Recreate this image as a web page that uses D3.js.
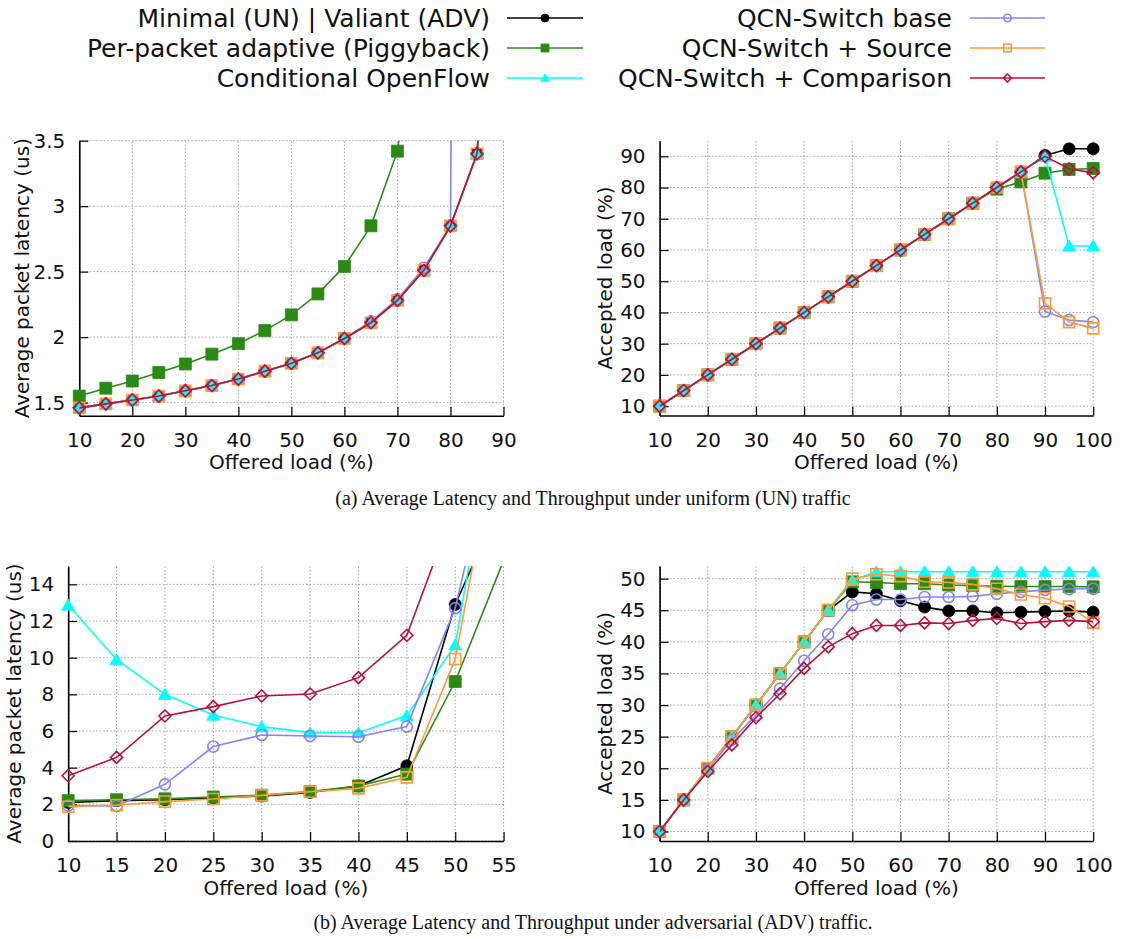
<!DOCTYPE html>
<html>
<head>
<meta charset="utf-8">
<title>QCN-Switch: latency and throughput</title>
<script src="https://cdn.jsdelivr.net/npm/d3@7"></script>
<style>
  body { margin: 0; background: #fff; }
  text { font-family: "DejaVu Sans", sans-serif; }
</style>
</head>
<body>
<script>
// series (legend order = drawing order)
const seriesNames = [
  "Minimal (UN) | Valiant (ADV)",
  "Per-packet adaptive (Piggyback)",
  "Conditional OpenFlow",
  "QCN-Switch base",
  "QCN-Switch + Source",
  "QCN-Switch + Comparison"
];
const seriesColors = ["#000000", "#2a8a14", "#00ffff", "#8484f4", "#ff9a35", "#b8103c"];
const seriesShapes = ["circle", "square", "triangle", "ocircle", "osquare", "diamond"];

// (a) uniform traffic - latency (us), offered load 10..90
const unLatLoad = [10, 15, 20, 25, 30, 35, 40, 45, 50, 55, 60, 65, 70, 75, 80, 85, 90];
const unLatMinimal    = [1.46, 1.49, 1.52, 1.55, 1.59, 1.63, 1.68, 1.74, 1.80, 1.88, 1.99, 2.11, 2.28, 2.51, 2.85, 3.40, 6.2];
const unLatPiggyback  = [1.55, 1.61, 1.665, 1.73, 1.795, 1.87, 1.95, 2.05, 2.17, 2.33, 2.54, 2.85, 3.42, 5.0, null, null, null];
const unLatOpenFlow   = [1.46, 1.49, 1.52, 1.55, 1.59, 1.63, 1.68, 1.74, 1.80, 1.88, 1.99, 2.11, 2.28, 2.51, 2.85, 3.40, 6.2];
const unLatBase       = [1.46, 1.49, 1.52, 1.55, 1.59, 1.63, 1.68, 1.74, 1.80, 1.88, 1.99, 2.12, 2.29, 2.53, 2.85, 30, null];
const unLatSource     = [1.46, 1.49, 1.52, 1.55, 1.59, 1.63, 1.68, 1.74, 1.80, 1.88, 1.99, 2.11, 2.28, 2.51, 2.85, 3.40, 6.2];
const unLatComparison = [1.46, 1.49, 1.52, 1.55, 1.59, 1.63, 1.68, 1.74, 1.80, 1.88, 1.99, 2.11, 2.28, 2.51, 2.85, 3.40, 6.2];

// (a) uniform traffic - accepted load (%), offered load 10..100
const unAccLoad = [10, 15, 20, 25, 30, 35, 40, 45, 50, 55, 60, 65, 70, 75, 80, 85, 90, 95, 100];
const unAccMinimal    = [10, 15, 20, 25, 30, 35, 40, 45, 50, 55, 60, 65, 70, 75, 80, 85, 90.3, 92.4, 92.4];
const unAccPiggyback  = [10, 15, 20, 25, 30, 35, 40, 45, 50, 55, 60, 65, 70, 75, 79.5, 81.8, 84.6, 85.8, 86.1];
const unAccOpenFlow   = [10, 15, 20, 25, 30, 35, 40, 45, 50, 55, 60, 65, 70, 75, 80, 85, 90, 61.3, 61.3];
const unAccBase       = [10, 15, 20, 25, 30, 35, 40, 45, 50, 55, 60, 65, 70, 75, 80, 85, 40.3, 37.6, 36.9];
const unAccSource     = [10, 15, 20, 25, 30, 35, 40, 45, 50, 55, 60, 65, 70, 75, 80, 85, 42.9, 36.9, 34.9];
const unAccComparison = [10, 15, 20, 25, 30, 35, 40, 45, 50, 55, 60, 65, 70, 75, 80, 85, 90, 86.0, 84.7];

// (b) adversarial traffic - latency (us), offered load 10..55
const advLatLoad = [10, 15, 20, 25, 30, 35, 40, 45, 50, 55];
const advLatValiant    = [2.1, 2.2, 2.25, 2.35, 2.45, 2.65, 3.0, 4.1, 12.9, 18.8];
const advLatPiggyback  = [2.2, 2.25, 2.3, 2.4, 2.5, 2.7, 3.0, 3.65, 8.7, 15.3];
const advLatOpenFlow   = [12.87, 9.9, 8.0, 6.87, 6.24, 5.91, 5.91, 6.84, 10.7, 26];
const advLatBase       = [1.93, 1.91, 3.09, 5.15, 5.78, 5.73, 5.69, 6.24, 12.7, 24];
const advLatSource     = [1.87, 1.96, 2.15, 2.29, 2.49, 2.69, 2.87, 3.47, 9.93, 24];
const advLatComparison = [3.56, 4.56, 6.82, 7.33, 7.91, 8.02, 8.91, 11.22, 18.3, null];

// (b) adversarial traffic - accepted load (%), offered load 10..100
const advAccLoad = [10, 15, 20, 25, 30, 35, 40, 45, 50, 55, 60, 65, 70, 75, 80, 85, 90, 95, 100];
const advAccValiant    = [10, 15, 20, 25, 30, 35, 40, 45, 47.9, 47.6, 46.5, 45.5, 44.9, 44.9, 44.6, 44.7, 44.8, 44.9, 44.7];
const advAccPiggyback  = [10, 15, 20, 25, 30, 35, 40, 45, 49.5, 49.4, 49.2, 49.2, 49.0, 48.9, 48.8, 48.75, 48.75, 48.75, 48.7];
const advAccOpenFlow   = [10, 15, 20, 25, 30, 35, 40, 45, 49.7, 51.1, 51.1, 51.1, 51.1, 51.1, 51.1, 51.1, 51.1, 51.1, 51.1];
const advAccBase       = [10, 15, 19.8, 24.5, 28.4, 32.6, 37.0, 41.2, 45.8, 46.7, 46.7, 47.1, 47.1, 47.2, 47.6, 47.9, 48.2, 48.35, 48.4];
const advAccSource     = [10, 15, 20, 25, 30, 35, 40, 45, 50.0, 50.7, 50.4, 49.5, 49.4, 49.1, 48.4, 47.5, 46.9, 45.6, 43.05];
const advAccComparison = [10, 15, 19.5, 23.7, 28.0, 31.8, 35.8, 39.2, 41.3, 42.6, 42.6, 43.0, 42.9, 43.4, 43.7, 42.9, 43.2, 43.4, 43.2];

// tick labels
const latUNTicksX = [10, 20, 30, 40, 50, 60, 70, 80, 90];
const latUNTicksY = [1.5, 2, 2.5, 3, 3.5];
const accTicksX = [10, 20, 30, 40, 50, 60, 70, 80, 90, 100];
const accUNTicksY = [10, 20, 30, 40, 50, 60, 70, 80, 90];
const latADVTicksX = [10, 15, 20, 25, 30, 35, 40, 45, 50, 55];
const latADVTicksY = [0, 2, 4, 6, 8, 10, 12, 14];
const accADVTicksY = [10, 15, 20, 25, 30, 35, 40, 45, 50];

const W = 1122, H = 939;
const svg = d3.select("body").append("svg")
  .attr("width", W)
  .attr("height", H);

// marker outline, centred at 0,0
function markerPath(shape, s) {
  if (shape === "circle" || shape === "ocircle") {
    const r = shape === "circle" ? s : s * 0.92;
    return `M${r},0A${r},${r} 0 1,1 ${-r},0A${r},${r} 0 1,1 ${r},0Z`;
  }
  if (shape === "square" || shape === "osquare") {
    const h = shape === "square" ? s : s * 0.92;
    return `M${-h},${-h}H${h}V${h}H${-h}Z`;
  }
  if (shape === "triangle") {
    return `M0,${-s * 1.0}L${s * 1.1},${s * 0.85}L${-s * 1.1},${s * 0.85}Z`;
  }
  return `M0,${-s}L${s},0L0,${s}L${-s},0Z`; // diamond
}

function drawMarker(g, shape, color, cx, cy, s) {
  const open = shape === "ocircle" || shape === "osquare" || shape === "diamond";
  g.append("path")
    .attr("d", markerPath(shape, s))
    .attr("transform", `translate(${cx},${cy})`)
    .attr("fill", open ? "none" : color)
    .attr("stroke", color)
    .attr("stroke-width", open ? 1.6 : 0.8);
}

let clipId = 0;
function drawPanel(cfg) {
  const x = d3.scaleLinear().domain(cfg.xDomain).range(cfg.xRange);
  const y = d3.scaleLinear().domain(cfg.yDomain).range(cfg.yRange);
  const g = svg.append("g");

  // dotted grid
  g.selectAll(".gx").data(cfg.xTicks).enter().append("line")
    .attr("x1", d => x(d)).attr("x2", d => x(d))
    .attr("y1", cfg.yRange[0]).attr("y2", cfg.yRange[1])
    .attr("stroke", "#a0a0a0").attr("stroke-width", 1)
    .attr("stroke-dasharray", "1.5,2");
  g.selectAll(".gy").data(cfg.yTicks).enter().append("line")
    .attr("x1", cfg.xRange[0]).attr("x2", cfg.xRange[1])
    .attr("y1", d => y(d)).attr("y2", d => y(d))
    .attr("stroke", "#a0a0a0").attr("stroke-width", 1)
    .attr("stroke-dasharray", "1.5,2");

  // axes
  const xAxis = d3.axisBottom(x).tickValues(cfg.xTicks)
    .tickSizeInner(-9).tickSizeOuter(0).tickPadding(17).tickFormat(d => d);
  const gx = g.append("g").attr("transform", `translate(0,${cfg.yRange[0]})`).call(xAxis);
  const yAxis = d3.axisLeft(y).tickValues(cfg.yTicks)
    .tickSizeInner(-9).tickSizeOuter(0).tickPadding(14).tickFormat(d => d);
  const gy = g.append("g").attr("transform", `translate(${cfg.xRange[0]},0)`).call(yAxis);
  [gx, gy].forEach(a => {
    a.attr("font-size", 20).attr("font-family", "DejaVu Sans");
    a.select(".domain").attr("stroke-width", 1.6);
    a.selectAll(".tick line").attr("stroke-width", 1.2);
    a.selectAll(".tick text").attr("fill", "#111");
  });

  // axis titles
  g.append("text")
    .attr("x", (cfg.xRange[0] + cfg.xRange[1]) / 2)
    .attr("y", cfg.xTitleY)
    .attr("text-anchor", "middle")
    .attr("dominant-baseline", "central")
    .attr("font-size", 20)
    .attr("fill", "#111")
    .text("Offered load (%)");
  g.append("text")
    .attr("transform", `translate(${cfg.yTitleX},${(cfg.yRange[0] + cfg.yRange[1]) / 2}) rotate(-90)`)
    .attr("text-anchor", "middle")
    .attr("dominant-baseline", "central")
    .attr("font-size", 20)
    .attr("fill", "#111")
    .text(cfg.yTitle);

  // clip for lines
  const id = "clip" + (clipId++);
  svg.append("clipPath").attr("id", id).append("rect")
    .attr("x", cfg.xRange[0]).attr("y", cfg.yRange[1])
    .attr("width", cfg.xRange[1] - cfg.xRange[0])
    .attr("height", cfg.yRange[0] - cfg.yRange[1]);

  const line = d3.line()
    .defined(d => d[1] !== null)
    .x(d => x(d[0]))
    .y(d => y(d[1]));

  cfg.series.forEach((vals, i) => {
    const pts = cfg.load.map((l, k) => [l, vals[k]]);
    g.append("path")
      .attr("d", line(pts))
      .attr("clip-path", `url(#${id})`)
      .attr("fill", "none")
      .attr("stroke", seriesColors[i])
      .attr("stroke-width", 1.6);
    const mg = g.append("g");
    pts.forEach(p => {
      if (p[1] === null) return;
      if (p[0] < cfg.xDomain[0] || p[0] > cfg.xDomain[1]) return;
      if (p[1] < cfg.yDomain[0] || p[1] > cfg.yDomain[1]) return;
      drawMarker(mg, seriesShapes[i], seriesColors[i], x(p[0]), y(p[1]), 6);
    });
  });
}

drawPanel({
  xDomain: [10, 90], xRange: [79.3, 503.5],
  yDomain: [1.4, 3.5], yRange: [415.7, 140.7],
  xTicks: latUNTicksX, yTicks: latUNTicksY,
  xTitleY: 462, yTitleX: 22,
  yTitle: "Average packet latency (us)",
  load: unLatLoad,
  series: [unLatMinimal, unLatPiggyback, unLatOpenFlow, unLatBase, unLatSource, unLatComparison]
});
drawPanel({
  xDomain: [10, 100], xRange: [659.6, 1093.2],
  yDomain: [7, 95], yRange: [415.5, 140.7],
  xTicks: accTicksX, yTicks: accUNTicksY,
  xTitleY: 462, yTitleX: 605,
  yTitle: "Accepted load (%)",
  load: unAccLoad,
  series: [unAccMinimal, unAccPiggyback, unAccOpenFlow, unAccBase, unAccSource, unAccComparison]
});
drawPanel({
  xDomain: [10, 55], xRange: [68.2, 503.6],
  yDomain: [0, 15], yRange: [841, 566],
  xTicks: latADVTicksX, yTicks: latADVTicksY,
  xTitleY: 888, yTitleX: 14,
  yTitle: "Average packet latency (us)",
  load: advLatLoad,
  series: [advLatValiant, advLatPiggyback, advLatOpenFlow, advLatBase, advLatSource, advLatComparison]
});
drawPanel({
  xDomain: [10, 100], xRange: [659.6, 1093.2],
  yDomain: [8.5, 52], yRange: [841, 566],
  xTicks: accTicksX, yTicks: accADVTicksY,
  xTitleY: 888, yTitleX: 605,
  yTitle: "Accepted load (%)",
  load: advAccLoad,
  series: [advAccValiant, advAccPiggyback, advAccOpenFlow, advAccBase, advAccSource, advAccComparison]
});

// legend, two columns of three
const legend = svg.append("g");
seriesNames.forEach((name, i) => {
  const col = i < 3 ? 0 : 1;
  const row = i % 3;
  const textEnd = col === 0 ? 490 : 952;
  const x0 = col === 0 ? 507 : 970;
  const x1 = col === 0 ? 583 : 1045;
  const cy = 18 + row * 30;
  legend.append("text")
    .attr("x", textEnd).attr("y", cy)
    .attr("text-anchor", "end")
    .attr("dominant-baseline", "central")
    .attr("font-size", 25)
    .attr("fill", "#111")
    .text(name);
  legend.append("line")
    .attr("x1", x0).attr("x2", x1)
    .attr("y1", cy).attr("y2", cy)
    .attr("stroke", seriesColors[i]).attr("stroke-width", 1.6);
  drawMarker(legend, seriesShapes[i], seriesColors[i], (x0 + x1) / 2, cy, 4);
});

// sub-captions
const captions = [
  ["(a) Average Latency and Throughput under uniform (UN) traffic", 505],
  ["(b) Average Latency and Throughput under adversarial (ADV) traffic.", 929]
];
captions.forEach(c => {
  svg.append("text")
    .attr("x", 593).attr("y", c[1])
    .attr("text-anchor", "middle")
    .style("font-family", "'Liberation Serif', 'Times New Roman', serif")
    .attr("font-size", 20)
    .attr("fill", "#111")
    .text(c[0]);
});
</script>
</body>
</html>
